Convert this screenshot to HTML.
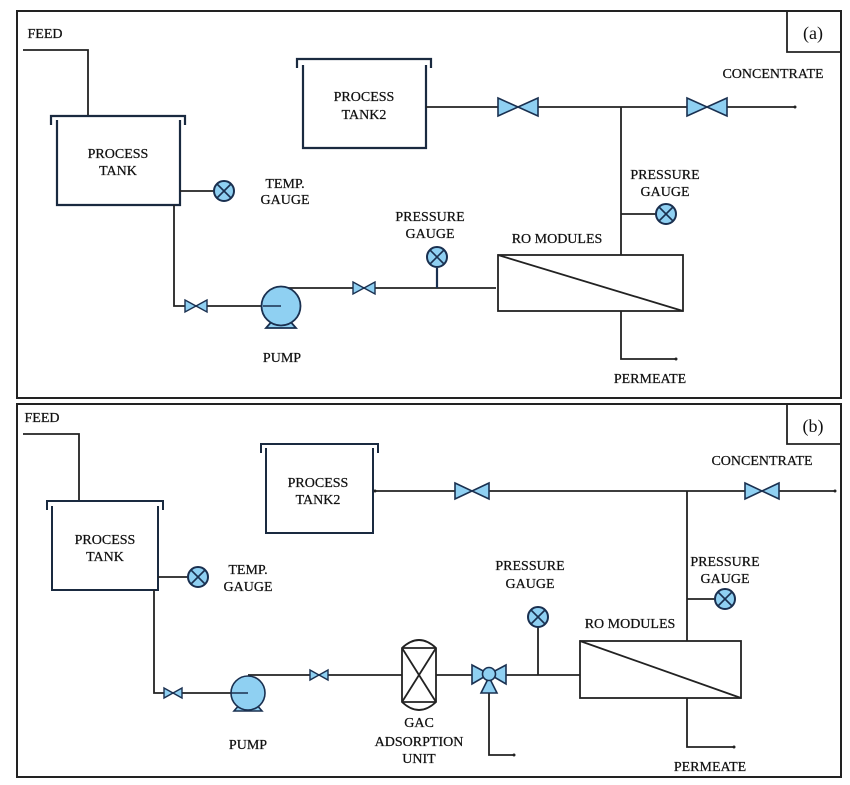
<!DOCTYPE html>
<html><head><meta charset="utf-8"><style>
html,body{margin:0;padding:0;background:#fff;}
svg{display:block;}
text{font-family:"Liberation Serif",serif;font-size:14px;fill:#111;text-anchor:middle;stroke:#111;stroke-width:0.25;}
</style></head><body>
<svg width="850" height="785" viewBox="0 0 850 785" xmlns="http://www.w3.org/2000/svg">
<defs>
<g id="valveA"><polygon points="-20,-9 0,0 -20,9" fill="#8fd0f2" stroke="#1a3050" stroke-width="1.6"/><polygon points="20,-9 0,0 20,9" fill="#8fd0f2" stroke="#1a3050" stroke-width="1.6"/></g>
<g id="valveB"><polygon points="-17,-8 0,0 -17,8" fill="#8fd0f2" stroke="#1a3050" stroke-width="1.6"/><polygon points="17,-8 0,0 17,8" fill="#8fd0f2" stroke="#1a3050" stroke-width="1.6"/></g>
<g id="valveS"><polygon points="-11,-6 0,0 -11,6" fill="#8fd0f2" stroke="#1a3050" stroke-width="1.4"/><polygon points="11,-6 0,0 11,6" fill="#8fd0f2" stroke="#1a3050" stroke-width="1.4"/></g>
<g id="valveS2"><polygon points="-9,-5 0,0 -9,5" fill="#8fd0f2" stroke="#1a3050" stroke-width="1.4"/><polygon points="9,-5 0,0 9,5" fill="#8fd0f2" stroke="#1a3050" stroke-width="1.4"/></g>
<g id="gauge"><circle r="10" fill="#8fd0f2" stroke="#1a3050" stroke-width="2"/><line x1="-7" y1="-7" x2="7" y2="7" stroke="#1a3050" stroke-width="1.6"/><line x1="7" y1="-7" x2="-7" y2="7" stroke="#1a3050" stroke-width="1.6"/></g>
</defs>
<g fill="none" stroke="#222" stroke-width="1.8">
<rect x="17" y="11" width="824" height="387" stroke-width="2"/>
<polyline points="787,11 787,52 841,52"/>
<rect x="17" y="404" width="824" height="373" stroke-width="2"/>
<polyline points="787,404 787,444 841,444"/>

<!-- PANEL A -->
<polyline points="23,50 88,50 88,116"/>
<polyline points="51,125 51,116 185,116 185,125" stroke="#1a2a40" stroke-width="2.2"/>
<polyline points="57,120 57,205 180,205 180,120" stroke="#1a2a40" stroke-width="2.2"/>
<line x1="180" y1="191" x2="214" y2="191"/>
<polyline points="174,205 174,306 281,306"/>
<polyline points="281,288 496,288"/>
<line x1="437" y1="268" x2="437" y2="288" stroke="#1a3050" stroke-width="2.2"/>
<polyline points="297,68 297,59 431,59 431,68" stroke="#1a2a40" stroke-width="2.2"/>
<polyline points="303,65 303,148 426,148 426,65" stroke="#1a2a40" stroke-width="2.2"/>
<line x1="426" y1="107" x2="795" y2="107"/>
<line x1="621" y1="107" x2="621" y2="255"/>
<line x1="621" y1="214" x2="656" y2="214"/>
<rect x="498" y="255" width="185" height="56"/>
<line x1="498" y1="255" x2="683" y2="311"/>
<polyline points="621,311 621,359 676,359"/>

<!-- PANEL B -->
<polyline points="23,434 79,434 79,500"/>
<polyline points="47,510 47,501 163,501 163,510" stroke="#1a2a40" stroke-width="2"/>
<polyline points="52,506 52,590 158,590 158,506" stroke="#1a2a40" stroke-width="2"/>
<line x1="158" y1="577" x2="188" y2="577"/>
<polyline points="154,590 154,693 248,693"/>
<line x1="248" y1="675" x2="402" y2="675"/>
<line x1="436" y1="675" x2="472" y2="675"/>
<line x1="506" y1="675" x2="580" y2="675"/>
<line x1="538" y1="627" x2="538" y2="675"/>
<polyline points="489,693 489,755 514,755"/>
<polyline points="261,453 261,444 378,444 378,453" stroke="#1a2a40" stroke-width="2"/>
<polyline points="266,448 266,533 373,533 373,448" stroke="#1a2a40" stroke-width="2"/>
<line x1="374" y1="491" x2="835" y2="491"/>
<line x1="687" y1="491" x2="687" y2="641"/>
<line x1="687" y1="599" x2="715" y2="599"/>
<rect x="580" y="641" width="161" height="57"/>
<line x1="580" y1="641" x2="741" y2="698"/>
<polyline points="687,698 687,747 734,747"/>
<path d="M402,648 Q419,632 436,648 L436,702 Q419,718 402,702 Z"/>
<line x1="402" y1="648" x2="436" y2="648"/><line x1="402" y1="702" x2="436" y2="702"/>
<line x1="402" y1="648" x2="436" y2="702"/><line x1="436" y1="648" x2="402" y2="702"/>
</g>
<g fill="#222"><circle cx="795" cy="107" r="1.5"/><circle cx="676" cy="359" r="1.5"/><circle cx="835" cy="491" r="1.5"/><circle cx="734" cy="747" r="1.5"/><circle cx="514" cy="755" r="1.5"/><circle cx="375" cy="491" r="1.5"/></g>

<use href="#gauge" x="224" y="191"/>
<use href="#gauge" x="437" y="257"/>
<use href="#gauge" x="666" y="214"/>
<use href="#valveS" x="196" y="306"/>
<use href="#valveS" x="364" y="288"/>
<use href="#valveA" x="518" y="107"/>
<use href="#valveA" x="707" y="107"/>
<g stroke="#1a3050" stroke-width="1.8" fill="#8fd0f2">
<polygon points="266,328 296,328 289,320 273,320"/>
<circle cx="281" cy="306" r="19.5"/>
</g>
<line x1="263" y1="306" x2="281" y2="306" stroke="#1a3050" stroke-width="1.5"/>

<use href="#gauge" x="198" y="577"/>
<use href="#gauge" x="538" y="617"/>
<use href="#gauge" x="725" y="599"/>
<use href="#valveS2" x="173" y="693"/>
<use href="#valveS2" x="319" y="675"/>
<use href="#valveB" x="472" y="491"/>
<use href="#valveB" x="762" y="491"/>
<g stroke="#1a3050" stroke-width="1.6" fill="#8fd0f2">
<polygon points="234,711 262,711 256,704 240,704"/>
<circle cx="248" cy="693" r="17"/>
<polygon points="472,665 489,674 472,684"/>
<polygon points="506,665 489,674 506,684"/>
<polygon points="489,677 481,693 497,693"/>
<circle cx="489" cy="674" r="6.5"/>
</g>
<line x1="231" y1="693" x2="248" y2="693" stroke="#1a3050" stroke-width="1.4"/>

<text x="45" y="38">FEED</text>
<text x="813" y="39" style="font-size:18px;stroke-width:0">(a)</text>
<text x="118" y="158">PROCESS</text><text x="118" y="175">TANK</text>
<text x="364" y="101">PROCESS</text><text x="364" y="119">TANK2</text>
<text x="285" y="188">TEMP.</text><text x="285" y="204">GAUGE</text>
<text x="430" y="221">PRESSURE</text><text x="430" y="238">GAUGE</text>
<text x="557" y="243">RO MODULES</text>
<text x="665" y="179">PRESSURE</text><text x="665" y="196">GAUGE</text>
<text x="773" y="78">CONCENTRATE</text>
<text x="282" y="362">PUMP</text>
<text x="650" y="383">PERMEATE</text>

<text x="42" y="422">FEED</text>
<text x="813" y="432" style="font-size:18px;stroke-width:0">(b)</text>
<text x="105" y="544">PROCESS</text><text x="105" y="561">TANK</text>
<text x="318" y="487">PROCESS</text><text x="318" y="504">TANK2</text>
<text x="248" y="574">TEMP.</text><text x="248" y="591">GAUGE</text>
<text x="530" y="570">PRESSURE</text><text x="530" y="588">GAUGE</text>
<text x="630" y="628">RO MODULES</text>
<text x="725" y="566">PRESSURE</text><text x="725" y="583">GAUGE</text>
<text x="762" y="465">CONCENTRATE</text>
<text x="248" y="749">PUMP</text>
<text x="419" y="727">GAC</text><text x="419" y="746">ADSORPTION</text><text x="419" y="763">UNIT</text>
<text x="710" y="771">PERMEATE</text>
</svg>
</body></html>
